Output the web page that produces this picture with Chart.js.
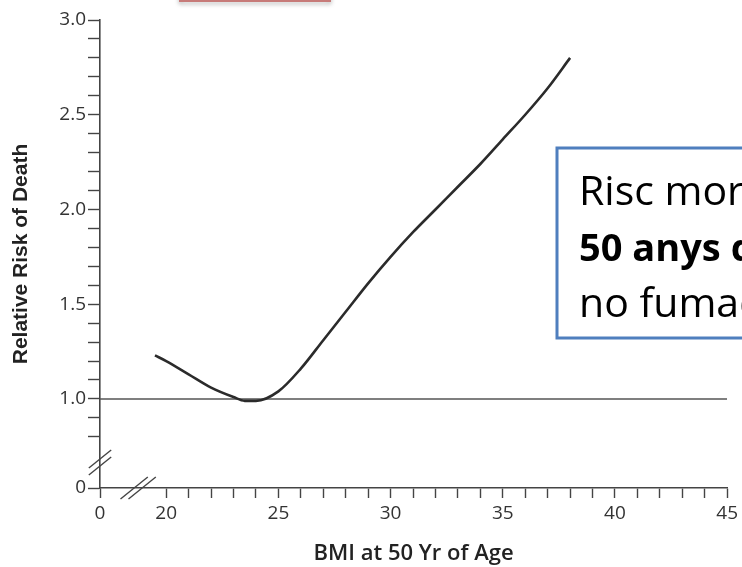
<!DOCTYPE html>
<html>
<head>
<meta charset="utf-8">
<title>BMI at 50 and relative risk of death</title>
<script src="https://cdn.jsdelivr.net/npm/chart.js@4.4.1/dist/chart.umd.min.js"></script>
<style>
  html, body { margin: 0; padding: 0; background: #fff; }
  canvas { display: block; }
</style>
</head>
<body>
<canvas id="riskChart" width="742" height="567"></canvas>
<script>
// Relative risk of death by BMI at age 50 (never smokers)

const bmi = [19.5, 20, 21, 22, 23, 23.5, 24, 25, 26, 27, 28, 29, 30, 31, 32, 33, 34, 35, 36, 37, 38];
const relRisk = [1.23, 1.20, 1.13, 1.06, 1.01, 0.99, 0.99, 1.04, 1.16, 1.31, 1.46, 1.61, 1.75, 1.88, 2.00, 2.12, 2.24, 2.37, 2.50, 2.64, 2.80];

const referenceRisk = 1.0;

// axis ticks (the zero label sits past a break in each axis)
const xTickValues = [20, 21, 22, 23, 24, 25, 26, 27, 28, 29, 30, 31, 32, 33, 34, 35, 36, 37, 38, 39, 40, 41, 42, 43, 44, 45];
const xTickLabels = ['20', '25', '30', '35', '40', '45'];
const yTickValues = [0.8, 0.9, 1.0, 1.1, 1.2, 1.3, 1.4, 1.5, 1.6, 1.7, 1.8, 1.9, 2.0, 2.1, 2.2, 2.3, 2.4, 2.5, 2.6, 2.7, 2.8, 2.9, 3.0];
const yTickLabels = ['1.0', '1.5', '2.0', '2.5', '3.0'];

// where the broken axes put their "0"
const xZeroAt = 17.05;
const yZeroAt = 0.53;
const xMax = 45;
const yMax = 3.0;

const axisColor = '#444';

function drawBreak(ctx, cx, cy, len, gap, vertical) {
  ctx.save();
  ctx.strokeStyle = axisColor;
  ctx.lineWidth = 1.4;
  const dx = len * 0.62, dy = len * 0.5;
  for (const s of [-gap / 2, gap / 2]) {
    const ox = vertical ? 0 : s;
    const oy = vertical ? s : 0;
    ctx.beginPath();
    ctx.moveTo(cx + ox - dx, cy + oy + dy);
    ctx.lineTo(cx + ox + dx, cy + oy - dy);
    ctx.stroke();
  }
  ctx.restore();
}

const extrasPlugin = {
  id: 'extras',
  afterDraw(chart) {
    const ctx = chart.ctx;
    const xs = chart.scales.x, ys = chart.scales.y;

    // axis breaks
    const yb = ys.getPixelForValue((yZeroAt + 0.8) / 2);
    drawBreak(ctx, ys.right, yb, 18, 7, true);
    const xb = xs.getPixelForValue(18.75);
    drawBreak(ctx, xb, xs.top, 22, 8, false);

    // slide frame at top
    ctx.save();
    ctx.shadowColor = 'rgba(0,0,0,0.35)';
    ctx.shadowBlur = 4;
    ctx.shadowOffsetY = 2;
    ctx.strokeStyle = '#c77b79';
    ctx.lineWidth = 2;
    ctx.strokeRect(180, -20, 150, 21);
    ctx.restore();

    // text box
    ctx.save();
    ctx.fillStyle = '#fff';
    ctx.fillRect(557, 148, 300, 190);
    ctx.strokeStyle = '#4f7fbe';
    ctx.lineWidth = 3;
    ctx.strokeRect(557, 148, 300, 190);
    ctx.fillStyle = '#000';
    ctx.textBaseline = 'alphabetic';
    ctx.font = '41px "Open Sans"';
    ctx.fillText('Risc mortalitat als', 579, 205);
    ctx.font = 'bold 38px "Open Sans"';
    ctx.fillText('50 anys d\u2019edat', 579, 261);
    ctx.font = '41px "Open Sans"';
    ctx.fillText('no fumadors', 579, 317);
    ctx.restore();
  }
};

const ctx = document.getElementById('riskChart').getContext('2d');

new Chart(ctx, {
  type: 'line',
  data: {
    datasets: [
      {
        label: 'Relative risk',
        data: bmi.map((x, i) => ({ x: x, y: relRisk[i] })),
        borderColor: '#2b2b2b',
        borderWidth: 2.6,
        pointRadius: 0,
        fill: false,
        cubicInterpolationMode: 'monotone'
      },
      {
        label: 'Reference',
        data: [{ x: xZeroAt, y: referenceRisk }, { x: xMax, y: referenceRisk }],
        borderColor: '#555',
        borderWidth: 1.5,
        pointRadius: 0,
        fill: false
      }
    ]
  },
  options: {
    responsive: false,
    animation: false,
    layout: { padding: { top: 20, right: 12, left: 0, bottom: 0 } },
    plugins: {
      legend: { display: false },
      tooltip: { enabled: false }
    },
    scales: {
      x: {
        type: 'linear',
        min: xZeroAt,
        max: xMax,
        afterFit(scale) { scale.height = 79; },
        afterBuildTicks(scale) {
          scale.ticks = [{ value: xZeroAt }].concat(xTickValues.map((v) => ({ value: v })));
        },
        grid: {
          drawOnChartArea: false,
          drawTicks: true,
          tickLength: 10,
          tickColor: axisColor,
          tickWidth: 1.4
        },
        border: { display: true, color: axisColor, width: 1.6 },
        ticks: {
          autoSkip: false,
          maxRotation: 0,
          padding: 4,
          color: '#333',
          font: { family: 'Open Sans', size: 19 },
          callback(value) {
            if (Math.abs(value - xZeroAt) < 1e-6) return '0';
            const s = String(Math.round(value));
            return xTickLabels.includes(s) ? s : '';
          }
        },
        title: {
          display: true,
          text: 'BMI at 50 Yr of Age',
          color: '#222',
          font: { family: 'Open Sans', size: 22, weight: '600' },
          padding: { top: 0, bottom: 0 }
        }
      },
      y: {
        type: 'linear',
        min: yZeroAt,
        max: yMax,
        afterFit(scale) { scale.width = 100; },
        afterBuildTicks(scale) {
          scale.ticks = [{ value: yZeroAt }].concat(yTickValues.map((v) => ({ value: v })));
        },
        grid: {
          drawOnChartArea: false,
          drawTicks: true,
          tickLength: 12,
          tickColor: axisColor,
          tickWidth: 1.4
        },
        border: { display: true, color: axisColor, width: 1.6 },
        ticks: {
          autoSkip: false,
          padding: 2,
          color: '#333',
          font: { family: 'Open Sans', size: 19 },
          callback(value) {
            if (Math.abs(value - yZeroAt) < 1e-6) return '0';
            const s = value.toFixed(1);
            return yTickLabels.includes(s) ? s : '';
          }
        },
        title: {
          display: true,
          text: 'Relative Risk of Death',
          color: '#222',
          font: { family: 'Liberation Sans', size: 21, weight: 'bold' },
          padding: { top: 9, bottom: 0 }
        }
      }
    }
  },
  plugins: [extrasPlugin]
});
</script>
</body>
</html>
